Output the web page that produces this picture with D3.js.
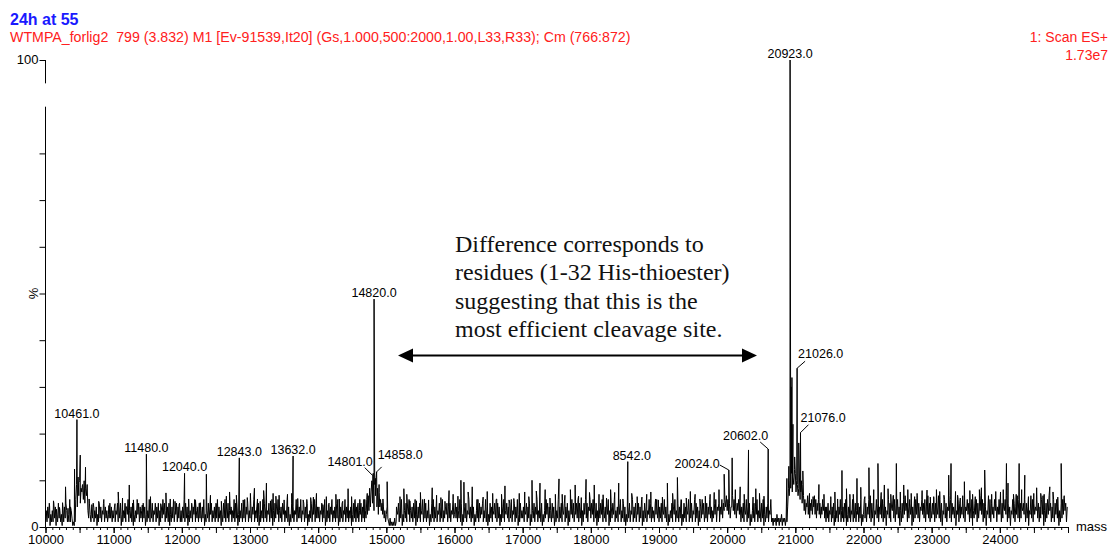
<!DOCTYPE html>
<html lang="en">
<head>
<meta charset="utf-8">
<script src="https://d3js.org/d3.v7.min.js"></script>
<style>
  body { margin: 0; background: #fff; }
  svg text { font-family: Arial, "Liberation Sans", sans-serif; }
</style>
</head>
<body>
<script>
    // baseline "grass" of the spectrum, one string per 1000 Da block,
    // each char is a local max/min (base36, unit = 0.8 %)
    var grassStart = [10000, 11000, 12000, 13000, 14000, 15000, 16000, 17000,
                      18000, 19000, 20000, 21000, 22000, 23000, 24000];
    var grassCodes = [
        "141526031416250316241305152641317142" + "0101" + "7b5d8c6a9b7c6a8b" + "4263152614250316251437152413262514",
        "251436152603142615371425160314273615241625031427152614361526041527361425160315271436152614",
        "152716250314261537142516241527031426153614251627152403162715261435142716250314261527153614",
        "261537142516031427162514361527041625371425163614271503162514371625271436152703142615371625",
        "2514361527031426153714251627031526143715261425031627152614361527142" + "7384a59c6e4b8d5a3b" + "574635241",
        "352" + "1020101020" + "14361527031426153714251627031526143715261425031627152614361527142536152614372",
        "362514271603152614372516250314271625361427150316251436271625031527143625162714361527031624",
        "251436152603142615371425160314273615241625031427152614361526041537261436271625041637261547",
        "263715260415263714251637041526371425163714261503152614371526143615270416251437261524163725",
        "152614372516031426153714261527031625143715261437162504152736142615372514263715461537264758",
        "473625584736264736" + "1526143715260314261537142516270315261437" + "120212031202130212021" + "5a8cae9dbf",
        "e9cb8ad79c6b8" + "47365837264736583726473625374625" + "1526143715260314261537142516270315261437152614361527031",
        "372615372816250437261538271625043726154827163725041627384615273605162738261547362715382614",
        "263716253827160437261548271635260437162538261547361527042637162548371625043827163527461537",
        "371625473816250437261538271625463716250438271635472615273804162738461527163725041627384615"
    ];

    // tall spikes above the grass: [mass, % of base peak]
    var spikes = [
        [10117, 5.6], [10206, 4.2], [10294, 8.6], [10367, 4.3], [10426, 12.4], [10461, 23.0],
        [10490, 9.5], [10510, 15.4], [10540, 8.8], [10587, 12.8], [10710, 4.1], [10850, 5.0],
        [11067, 7.5], [11229, 9.0], [11350, 5.2], [11480, 15.6], [11615, 4.1], [11767, 7.3],
        [11900, 5.5], [12040, 11.5], [12200, 5.8], [12360, 11.3], [12506, 5.0], [12653, 6.6],
        [12727, 4.0], [12800, 6.8], [12843, 14.8], [13006, 7.2], [13065, 8.3], [13150, 5.5],
        [13241, 9.4], [13339, 7.2], [13427, 6.8], [13612, 7.2], [13632, 15.2], [13780, 5.8],
        [13890, 6.3], [13975, 7.2], [14068, 4.8], [14200, 5.6], [14310, 6.0], [14439, 8.2],
        [14537, 5.7], [14611, 5.9], [14684, 5.9], [14790, 9.5], [14801, 11.0], [14820, 48.8],
        [14840, 10.4], [14858, 11.8], [14895, 7.4], [15012, 9.7], [15149, 4.3], [15257, 8.2],
        [15345, 5.6], [15443, 5.6], [15560, 6.0], [15673, 8.4], [15737, 6.8], [15920, 7.8],
        [16094, 10.0], [16138, 9.6], [16260, 8.6], [16420, 6.4], [16560, 7.2], [16740, 8.8],
        [16870, 6.1], [17030, 7.5], [17137, 10.0], [17254, 9.4], [17330, 8.0], [17480, 7.0],
        [17533, 10.3], [17620, 6.8], [17770, 9.0], [17860, 6.3], [17930, 10.2], [18050, 9.0],
        [18180, 6.9], [18290, 8.0], [18409, 9.4], [18542, 14.0], [18680, 6.5], [18820, 7.0],
        [18950, 6.0], [19123, 9.4], [19270, 10.6], [19400, 6.2], [19530, 7.0], [19680, 6.6],
        [19810, 7.4], [19956, 11.3], [20024, 12.2], [20073, 14.8], [20191, 8.6], [20313, 16.5],
        [20474, 7.2], [20602, 16.7], [20876, 10.4], [20905, 13.0], [20923, 100], [20940, 30.0],
        [20950, 32.0], [20965, 22.0], [20990, 15.0], [21026, 34.0], [21050, 18.0], [21076, 20.2],
        [21110, 12.0], [21208, 7.2], [21346, 9.1], [21520, 6.5], [21684, 12.1], [21800, 7.0],
        [21904, 10.4], [22080, 12.7], [22212, 13.6], [22306, 9.0], [22400, 7.0], [22482, 13.6],
        [22590, 9.0], [22700, 7.2], [22786, 7.2], [22932, 7.9], [23030, 6.5], [23118, 7.6],
        [23250, 11.1], [23284, 13.6], [23380, 6.8], [23480, 9.7], [23600, 7.0], [23700, 8.0],
        [23778, 12.2], [23940, 7.6], [24010, 7.5], [24097, 13.6], [24120, 9.4], [24200, 7.0],
        [24283, 13.6], [24366, 11.1], [24498, 7.2], [24600, 7.2], [24733, 8.6], [24900, 13.6],
        [24939, 6.1]
    ];

    // smaller spikes sticking out of the grass: [mass, %]
    var minorSpikes = [
        [10060, 4.5], [10160, 3.8], [10250, 5.2], [10330, 4.0], [10640, 6.0], [10680, 4.8],
        [10780, 5.5], [10930, 4.6], [11020, 5.0], [11130, 6.2], [11180, 4.4], [11290, 5.8],
        [11420, 4.7], [11540, 6.5], [11690, 5.0], [11830, 6.0], [11960, 4.8], [12100, 6.0],
        [12150, 4.5], [12270, 5.2], [12420, 6.8], [12580, 5.5], [12700, 7.5], [12900, 5.8],
        [12960, 6.3], [13110, 6.0], [13200, 7.8], [13300, 5.6], [13380, 6.6], [13500, 5.8],
        [13550, 7.0], [13700, 6.1], [13840, 5.0], [13930, 6.4], [14120, 6.5], [14150, 4.8],
        [14260, 7.0], [14360, 5.5], [14490, 6.5], [14580, 4.8], [14720, 7.2], [14950, 6.0],
        [15200, 6.5], [15300, 7.0], [15400, 5.0], [15500, 7.4], [15620, 5.8], [15800, 6.3],
        [15860, 5.5], [15980, 7.0], [16050, 6.6], [16200, 7.5], [16330, 5.9], [16480, 7.6],
        [16620, 6.0], [16690, 7.0], [16800, 5.8], [16950, 7.2], [17090, 6.5], [17200, 7.7],
        [17400, 6.2], [17580, 7.0], [17700, 8.0], [17820, 6.6], [17980, 7.4], [18120, 7.0],
        [18230, 6.2], [18350, 7.4], [18470, 6.0], [18600, 7.2], [18750, 6.4], [18880, 7.5],
        [18990, 5.8], [19050, 6.4], [19200, 7.2], [19330, 5.8], [19460, 7.6], [19600, 6.0],
        [19750, 7.0], [19880, 8.0], [20120, 8.0], [20250, 7.0], [20380, 6.4], [20420, 8.2],
        [20540, 6.6], [21260, 6.5], [21420, 7.0], [21580, 7.5], [21620, 6.0], [21750, 8.2],
        [21850, 7.0], [21960, 8.5], [22020, 6.5], [22150, 8.0], [22260, 7.4], [22360, 8.2],
        [22440, 6.8], [22540, 7.5], [22650, 8.0], [22750, 6.5], [22860, 7.8], [22980, 6.4],
        [23070, 8.0], [23180, 6.8], [23350, 7.6], [23420, 6.2], [23560, 7.8], [23640, 6.5],
        [23730, 8.4], [23880, 7.0], [24050, 8.0], [24240, 7.0], [24320, 8.0], [24420, 6.5],
        [24540, 8.4], [24650, 7.0], [24780, 7.5], [24850, 6.4]
    ];

    // labelled peaks: [text, mass, %]
    var peakLabels = [
        ["10461.0", 10461, 23.0], ["11480.0", 11480, 15.6], ["12040.0", 12040, 11.5],
        ["12843.0", 12843, 14.8], ["13632.0", 13632, 15.2], ["14801.0", 14801, 11.0],
        ["14820.0", 14820, 48.8], ["14858.0", 14858, 11.8], ["8542.0", 18542, 14.0],
        ["20024.0", 20024, 12.2], ["20602.0", 20602, 16.7], ["20923.0", 20923, 100],
        ["21026.0", 21026, 34.0], ["21076.0", 21076, 20.2]
    ];

    var xTicks = [10000, 11000, 12000, 13000, 14000, 15000, 16000, 17000,
                  18000, 19000, 20000, 21000, 22000, 23000, 24000];
    var yTicks = [0, 10, 20, 30, 40, 50, 60, 70, 80, 100];

    var titleText = "24h at 55";
    var subText = "WTMPA_forlig2  799 (3.832) M1 [Ev-91539,It20] (Gs,1.000,500:2000,1.00,L33,R33); Cm (766:872)";
    var scanText = ["1: Scan ES+", "1.73e7"];
    var noteLines = ["Difference corresponds to", "residues (1-32 His-thioester)",
                     "suggesting that this is the", "most efficient cleavage site."];

    var width = 1114, height = 547;

    var x = d3.scaleLinear().domain([10000, 25000]).range([45.5, 1068]);
    var y = d3.scaleLinear().domain([0, 100]).range([527, 60]);

    var svg = d3.select("body").append("svg")
        .attr("width", width)
        .attr("height", height);

    // header texts
    svg.append("text").attr("x", 10).attr("y", 25)
        .attr("fill", "#1a1aff").style("font-weight", "bold").style("font-size", "16px")
        .text(titleText);
    svg.append("text").attr("x", 10).attr("y", 42)
        .attr("fill", "#ff2020").style("font-size", "14.2px").style("white-space", "pre")
        .text(subText);
    svg.selectAll(".scan").data(scanText).enter().append("text")
        .attr("x", 1108).attr("y", function(d, i) { return 42 + i * 18; })
        .attr("text-anchor", "end").attr("fill", "#ff2020").style("font-size", "14px")
        .text(function(d) { return d; });

    // build spectrum points
    var points = [];
    grassCodes.forEach(function(code, i) {
        var step = 1000 / code.length;
        for (var j = 0; j < code.length; j++) {
            points.push([grassStart[i] + j * step, 0.3 + parseInt(code[j], 36) * 0.8]);
        }
    });
    spikes.concat(minorSpikes).forEach(function(s) { points.push(s); });
    points.sort(function(a, b) { return a[0] - b[0]; });

    var line = d3.line()
        .x(function(d) { return x(d[0]); })
        .y(function(d) { return y(d[1]); });

    svg.append("path")
        .datum(points)
        .attr("d", line)
        .attr("fill", "none")
        .attr("stroke", "#000")
        .attr("stroke-width", 1);

    // x axis: minor ticks every 100, longer every 500, labels every 1000
    svg.append("g")
        .attr("transform", "translate(0,527)")
        .call(d3.axisBottom(x).tickValues(d3.range(10000, 25001, 100)).tickSize(3).tickFormat(""))
        .call(function(g) { g.select(".domain").remove(); });
    svg.append("g")
        .attr("transform", "translate(0,527)")
        .call(d3.axisBottom(x).tickValues(d3.range(10000, 25001, 500)).tickSize(6).tickFormat(""))
        .call(function(g) { g.select(".domain").remove(); });
    var xAxis = svg.append("g")
        .attr("transform", "translate(0,527)")
        .call(d3.axisBottom(x).tickValues(xTicks).tickSize(6).tickPadding(2)
            .tickFormat(d3.format("d")).tickSizeOuter(0));
    xAxis.selectAll("text").style("font-size", "13px").attr("fill", "#000");
    svg.selectAll(".tick line").attr("stroke", "#000");
    xAxis.select(".domain").attr("stroke", "#000");

    svg.append("text").attr("x", 1076).attr("y", 531)
        .style("font-size", "13px").text("mass");

    // y axis (broken near the top like the original)
    var yAxis = svg.append("g")
        .attr("transform", "translate(45.5,0)")
        .call(d3.axisLeft(y).tickValues(yTicks).tickSize(6).tickPadding(1)
            .tickFormat(function(d) { return (d === 0 || d === 100) ? d : ""; }));
    yAxis.select(".domain").remove();
    yAxis.selectAll("text").style("font-size", "13px").attr("fill", "#000").attr("dy", "0.3em");
    yAxis.selectAll(".tick line").attr("stroke", "#000");
    [[100, 95], [90, 0]].forEach(function(seg) {
        svg.append("line")
            .attr("x1", 45.5).attr("x2", 45.5)
            .attr("y1", y(seg[0])).attr("y2", y(seg[1]))
            .attr("stroke", "#000");
    });
    svg.append("text")
        .attr("transform", "translate(38," + y(50) + ") rotate(-90)")
        .attr("text-anchor", "middle")
        .style("font-size", "13px")
        .text("%");

    // peak labels; offsets are [leader dx, leader dy, text dx, text dy, anchor]
    var labelLayout = {
        "14801.0": [-8, -8, 0, -10, "end"],
        "14858.0": [5, -5, 1, -13, "start"],
        "8542.0":  [0, 0, 4, -2, "middle"],
        "20024.0": [-9, -5, -9, -2, "end"],
        "20602.0": [-8, -7, 0, -9, "end"],
        "21026.0": [8, -7, 1, -10, "start"],
        "21076.0": [8, -8, 0, -11, "start"]
    };
    var lab = svg.selectAll(".plab").data(peakLabels).enter().append("g").attr("class", "plab");
    lab.each(function(d) {
        var g = d3.select(this);
        var px = x(d[1]), py = y(d[2]);
        var lay = labelLayout[d[0]] || [0, 0, 0, -2, "middle"];
        if (lay[0] !== 0 || lay[1] !== 0) {
            g.append("line")
                .attr("x1", px).attr("y1", py)
                .attr("x2", px + lay[0]).attr("y2", py + lay[1])
                .attr("stroke", "#000").attr("stroke-width", 1);
        }
        g.append("text")
            .attr("x", px + lay[2]).attr("y", py + lay[3])
            .attr("text-anchor", lay[4])
            .style("font-size", "12.5px")
            .text(d[0]);
    });

    // annotation
    svg.selectAll(".note").data(noteLines).enter().append("text")
        .attr("x", 455)
        .attr("y", function(d, i) { return 252 + i * 28.3; })
        .style("font-family", "'Liberation Serif', 'Times New Roman', serif")
        .style("font-size", "24px")
        .attr("fill", "#111")
        .text(function(d) { return d; });

    var ax1 = 398, ax2 = 757, ay = 355.5;
    svg.append("line")
        .attr("x1", ax1 + 10).attr("x2", ax2 - 10)
        .attr("y1", ay).attr("y2", ay)
        .attr("stroke", "#000").attr("stroke-width", 2);
    svg.append("path")
        .attr("d", "M" + ax1 + "," + ay + "L" + (ax1 + 15) + "," + (ay - 7) + "L" + (ax1 + 15) + "," + (ay + 7) + "Z")
        .attr("fill", "#000");
    svg.append("path")
        .attr("d", "M" + ax2 + "," + ay + "L" + (ax2 - 15) + "," + (ay - 7) + "L" + (ax2 - 15) + "," + (ay + 7) + "Z")
        .attr("fill", "#000");
</script>
</body>
</html>
